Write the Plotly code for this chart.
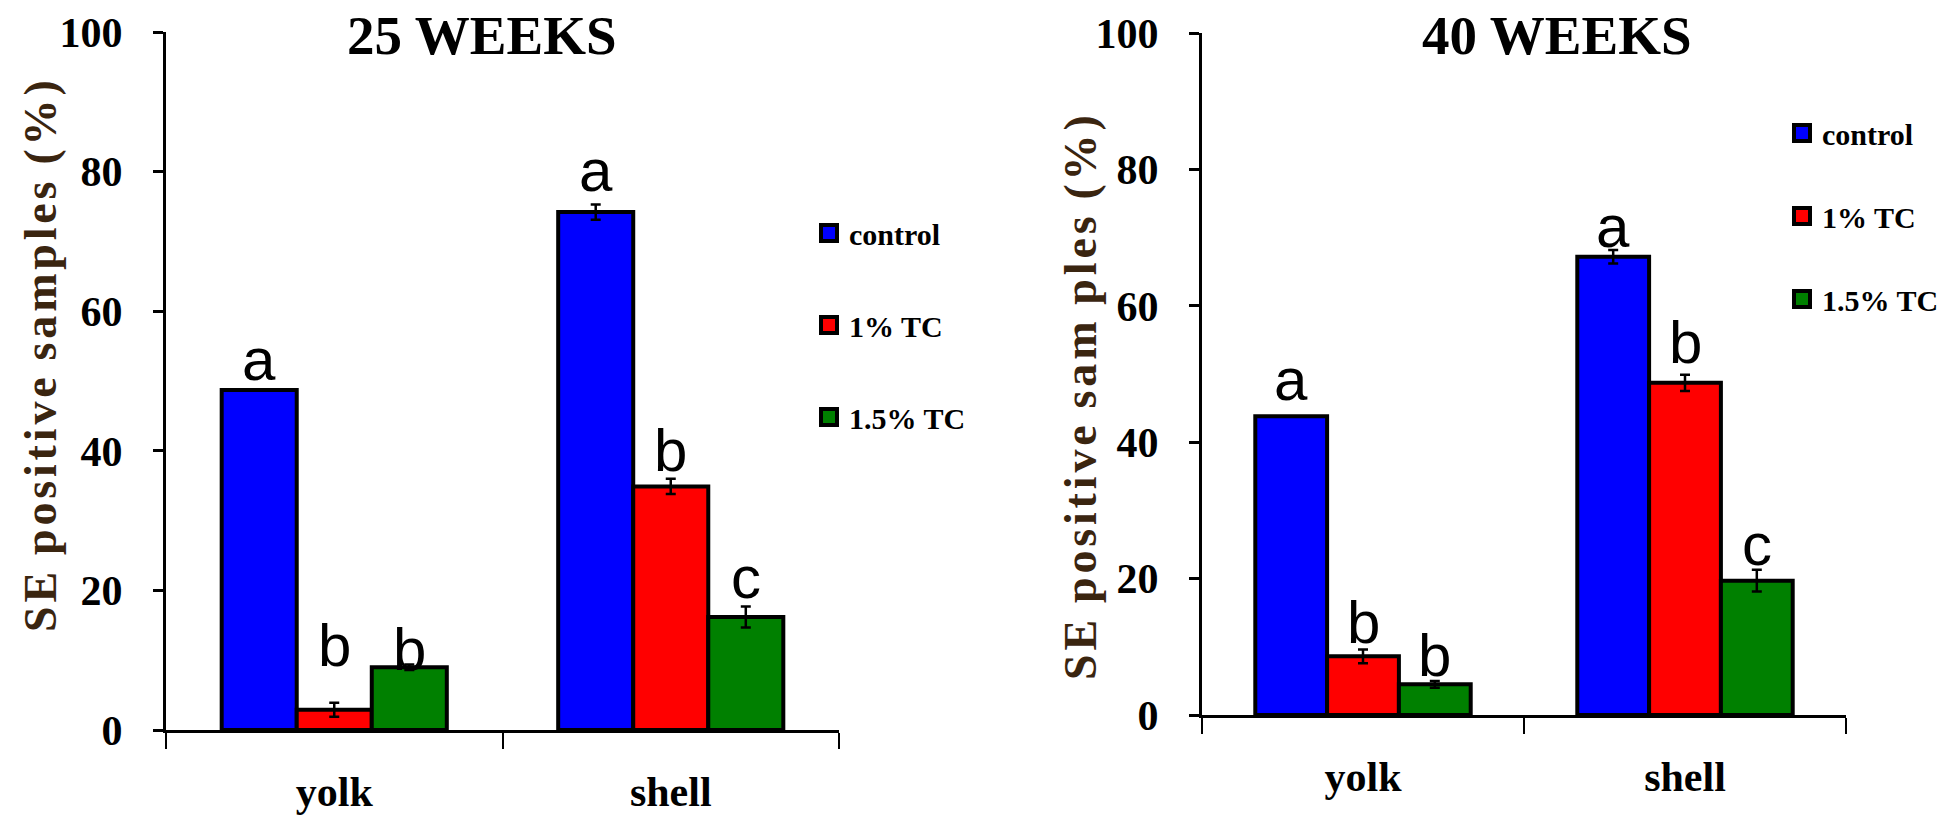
import plotly.graph_objects as go

# ---------------- data ----------------
categories = ["yolk", "shell"]
treatments = ["control", "1% TC", "1.5% TC"]

# 25 weeks: SE positive samples (%) and error
wk25_values = {"control": [48.7, 74.2], "1% TC": [2.9, 34.9], "1.5% TC": [9.0, 16.2]}
wk25_errors = {"control": [0.0, 1.1], "1% TC": [1.0, 1.1], "1.5% TC": [0.4, 1.5]}
wk25_letters = {"control": ["a", "a"], "1% TC": ["b", "b"], "1.5% TC": ["b", "c"]}

# 40 weeks
wk40_values = {"control": [43.8, 67.2], "1% TC": [8.6, 48.7], "1.5% TC": [4.5, 19.7]}
wk40_errors = {"control": [0.0, 1.0], "1% TC": [1.0, 1.2], "1.5% TC": [0.5, 1.6]}
wk40_letters = {"control": ["a", "a"], "1% TC": ["b", "b"], "1.5% TC": ["b", "c"]}

y_ticks = [0, 20, 40, 60, 80, 100]
panel_titles = ["25 WEEKS", "40 WEEKS"]
y_titles = ["SE positive samples (%)", "SE positive sam ples (%)"]

# ---------------- style ----------------
W, H = 1950, 821
colors = {"control": "#0000FF", "1% TC": "#FF0000", "1.5% TC": "#008000"}
SERIF = "Liberation Serif"
SANS = "Liberation Sans"
BARGAP = 0.331

# letter baseline gap (px) above each error-bar top, per treatment and category
wk25_letter_gap = {"control": [10, 13], "1% TC": [37, 8], "1.5% TC": [-6, 8]}
wk40_letter_gap = {"control": [16, 3], "1% TC": [7, 12], "1.5% TC": [5, 5]}
LETTER_DESCENT = 15


def px_x(p):
    return p / W


def px_y(p):
    return 1 - p / H


panels = [
    dict(values=wk25_values, errors=wk25_errors, letters=wk25_letters, gaps=wk25_letter_gap,
         xdom=(166, 839), ydom=(730, 32), xa="x", ya="y", legend="legend",
         title_xy=(482, 36), ylabel_xy=(40, 356)),
    dict(values=wk40_values, errors=wk40_errors, letters=wk40_letters, gaps=wk40_letter_gap,
         xdom=(1202, 1846), ydom=(715, 33), xa="x2", ya="y2", legend="legend2",
         title_xy=(1557, 36), ylabel_xy=(1080, 398)),
]

fig = go.Figure()
annotations = []


def spaced(text):
    # widen the tracking of the axis caption with hair spaces
    return "\u200a".join(ch if ch != " " else "\u2009" for ch in text)


for k, p in enumerate(panels):
    for t in treatments:
        fig.add_trace(go.Bar(
            x=categories, y=p["values"][t], name=t, showlegend=False,
            xaxis=p["xa"], yaxis=p["ya"],
            marker=dict(color=colors[t], line=dict(color="black", width=4)),
            error_y=dict(type="data", array=p["errors"][t], visible=True,
                         color="black", thickness=2.5, width=5),
        ))
    # legend keys: outlined colour squares
    for t in treatments:
        fig.add_trace(go.Scatter(
            x=[None], y=[None], name=t, mode="markers", xaxis=p["xa"], yaxis=p["ya"],
            legend=p["legend"], legendgroup=p["legend"] + t,
            marker=dict(symbol="square", size=20, color=colors[t],
                        line=dict(color="black", width=4)),
        ))
    # significance letters above bars
    bw = (1 - BARGAP) / len(treatments)
    for i, t in enumerate(treatments):
        for j, cat in enumerate(categories):
            top = p["values"][t][j] + p["errors"][t][j]
            annotations.append(dict(
                x=j + (i - 1) * bw, y=top, xref=p["xa"], yref=p["ya"],
                text=p["letters"][t][j], showarrow=False,
                xanchor="center", yanchor="bottom",
                yshift=p["gaps"][t][j] - LETTER_DESCENT,
                font=dict(family=SANS, size=60, color="black"),
            ))
    tx, ty = p["title_xy"]
    annotations.append(dict(
        x=px_x(tx), y=px_y(ty), xref="paper", yref="paper", showarrow=False,
        text=panel_titles[k], xanchor="center", yanchor="middle",
        font=dict(family=SERIF, size=55, color="black", weight="bold"),
    ))
    lx, ly = p["ylabel_xy"]
    annotations.append(dict(
        x=px_x(lx), y=px_y(ly), xref="paper", yref="paper", showarrow=False,
        text=spaced(y_titles[k]), textangle=-90, xanchor="center", yanchor="middle",
        font=dict(family=SERIF, size=46, color="#3a2510", weight="bold"),
    ))

axis_common = dict(showline=True, linecolor="black", linewidth=3, showgrid=False,
                   zeroline=False, ticks="outside", tickcolor="black", automargin=False)

for p in panels:
    xkey = "xaxis" if p["xa"] == "x" else "xaxis2"
    ykey = "yaxis" if p["ya"] == "y" else "yaxis2"
    fig.layout[xkey] = dict(
        axis_common, type="category", categoryarray=categories,
        domain=[px_x(p["xdom"][0]), px_x(p["xdom"][1])],
        anchor=p["ya"], tickson="boundaries", ticklen=16, tickwidth=2,
        tickfont=dict(family=SERIF, size=42, color="black", weight="bold"),
        ticklabelstandoff=23,
    )
    fig.layout[ykey] = dict(
        axis_common, domain=[px_y(p["ydom"][0]), px_y(p["ydom"][1])], anchor=p["xa"],
        range=[0, 100], tickvals=y_ticks, ticklen=10, tickwidth=3,
        tickfont=dict(family=SERIF, size=42, color="black", weight="bold"),
        ticklabelstandoff=22,
    )

legend_common = dict(font=dict(family=SERIF, size=30, color="black", weight="bold"),
                     bgcolor="rgba(0,0,0,0)", xanchor="left", yanchor="top",
                     traceorder="grouped", itemclick=False, itemsizing="trace")
fig.update_layout(
    width=W, height=H, margin=dict(l=0, r=0, t=0, b=0, autoexpand=False),
    paper_bgcolor="white", plot_bgcolor="white",
    barmode="group", bargap=BARGAP, bargroupgap=0,
    showlegend=True,
    legend=dict(legend_common, x=px_x(809), y=px_y(207), tracegroupgap=50),
    legend2=dict(legend_common, x=px_x(1782), y=px_y(107), tracegroupgap=41),
    annotations=annotations,
)

fig.write_html("out.html")
